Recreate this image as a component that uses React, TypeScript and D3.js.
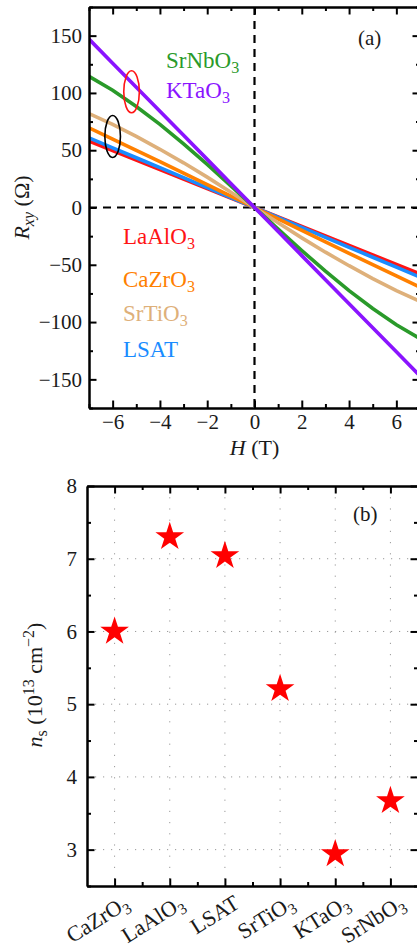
import { useEffect, useRef } from "react"
import * as d3 from "d3"

// ---- panel (a): Hall resistance vs field ----
const fieldT = [-7, -6, -5, -4, -3, -2, -1, 0, 1, 2, 3, 4, 5, 6, 7]
const rLaAlO3 = [58, 49.7, 41.4, 33.1, 24.9, 16.6, 8.3, 0, -8.3, -16.6, -24.9, -33.1, -41.4, -49.7, -58]
const rLSAT = [60.8, 52.1, 43.4, 34.8, 26.1, 17.4, 8.7, 0, -8.7, -17.4, -26.1, -34.8, -43.4, -52.1, -60.8]
const rCaZrO3 = [69.5, 59.7, 49.8, 40, 30, 20, 10, 0, -10, -20, -30, -40, -49.8, -59.7, -69.5]
const rSrTiO3 = [82, 72.5, 62, 50.8, 39, 26.5, 13.4, 0, -13.4, -26.5, -39, -50.8, -62, -72.5, -82]
const rSrNbO3 = [114.5, 102.3, 88.2, 72.5, 55.5, 37.6, 18.9, 0, -18.9, -37.6, -55.5, -72.5, -88.2, -102.3, -114.5]
const rKTaO3 = [147, 126, 105, 84, 63, 42, 21, 0, -21, -42, -63, -84, -105, -126, -147]

const seriesNames = ["LaAlO3", "LSAT", "CaZrO3", "SrTiO3", "SrNbO3", "KTaO3"]
const seriesValues = [rLaAlO3, rLSAT, rCaZrO3, rSrTiO3, rSrNbO3, rKTaO3]
const seriesColors = ["#ff1414", "#1a8cff", "#ff8000", "#deb07a", "#2a9a2a", "#8a14ff"]

const xTicksA = [-6, -4, -2, 0, 2, 4, 6]
const yTicksA = [-150, -100, -50, 0, 50, 100, 150]

// circled regions (field, resistance)
const ovalH = [-5.2, -6]
const ovalR = [101, 62]
const ovalColors = ["#ff1414", "#000"]

// ---- panel (b): carrier density per substrate ----
const substrates = ["CaZrO3", "LaAlO3", "LSAT", "SrTiO3", "KTaO3", "SrNbO3"]
const density = [6.0, 7.3, 7.04, 5.21, 2.94, 3.67]
const yTicksB = [3, 4, 5, 6, 7, 8]

const FONT = '"Liberation Serif", "DejaVu Serif", serif'
const INK = "#1a1a1a"

const minus = (v: number) => (v < 0 ? "\u2212" + Math.abs(v) : String(v))

// writes "SrNbO3" as SrNbO with a subscript 3
const chem = (text: any, name: string, size: number) => {
  const m = name.match(/^(.*?)(\d+)$/)
  if (!m) {
    text.append("tspan").text(name)
    return
  }
  text.append("tspan").text(m[1])
  text.append("tspan").attr("font-size", size * 0.7).attr("dy", size * 0.22).text(m[2])
}

const styleAxis = (g: any, labelSize = 21) => {
  g.attr("font-family", FONT).attr("font-size", labelSize)
  g.select(".domain").attr("stroke", "#000").attr("stroke-width", 2)
  g.selectAll(".tick line").attr("stroke", "#000").attr("stroke-width", 2)
  g.selectAll(".tick text").attr("fill", INK)
}

const App = () => {
  const svgRef = useRef<SVGSVGElement>(null)

  useEffect(() => {
    const svg = d3.select(svgRef.current)
    svg.selectAll("*").remove()

    // ================= panel (a) =================
    const x = d3.scaleLinear().domain([-7, 7]).range([89, 420])
    const y = d3.scaleLinear().domain([-175, 175]).range([408, 7])
    const [x0, x1] = x.range()
    const [yb0, yt0] = y.range()

    svg.append("clipPath").attr("id", "clipA")
      .append("rect").attr("x", x0).attr("y", yt0).attr("width", x1 - x0).attr("height", yb0 - yt0)

    // zero lines
    svg.append("line")
      .attr("x1", x(0)).attr("x2", x(0)).attr("y1", yt0).attr("y2", yb0)
      .attr("stroke", "#000").attr("stroke-width", 2.2).attr("stroke-dasharray", "8,6")
    svg.append("line")
      .attr("x1", x0).attr("x2", x1).attr("y1", y(0)).attr("y2", y(0))
      .attr("stroke", "#000").attr("stroke-width", 2.2).attr("stroke-dasharray", "8,6")

    const line = d3.line<number>()
      .x((_, i) => x(fieldT[i]))
      .y(d => y(d))

    const linesG = svg.append("g").attr("clip-path", "url(#clipA)")
    seriesValues.forEach((vals, i) => {
      linesG.append("path")
        .datum(vals)
        .attr("fill", "none")
        .attr("stroke", seriesColors[i])
        .attr("stroke-width", 3.6)
        .attr("d", line)
    })

    // ovals
    ovalH.forEach((h, i) => {
      svg.append("ellipse")
        .attr("cx", x(h)).attr("cy", y(ovalR[i]))
        .attr("rx", 7.8).attr("ry", 21)
        .attr("fill", "none").attr("stroke", ovalColors[i]).attr("stroke-width", 1.6)
    })

    // axes
    const gb = svg.append("g").attr("transform", `translate(0,${yb0})`)
      .call(d3.axisBottom(x).tickValues(xTicksA).tickSize(-7.5).tickSizeOuter(0).tickPadding(6).tickFormat(d => minus(+d)))
    styleAxis(gb)
    const gbm = svg.append("g").attr("transform", `translate(0,${yb0})`)
      .call(d3.axisBottom(x).tickValues(d3.range(-7, 8, 2)).tickSize(-4).tickSizeOuter(0).tickFormat(() => ""))
    styleAxis(gbm)
    const gt = svg.append("g").attr("transform", `translate(0,${yt0})`)
      .call(d3.axisTop(x).tickValues(xTicksA).tickSize(-7.5).tickSizeOuter(0).tickFormat(() => ""))
    styleAxis(gt)
    const gtm = svg.append("g").attr("transform", `translate(0,${yt0})`)
      .call(d3.axisTop(x).tickValues(d3.range(-7, 8, 2)).tickSize(-4).tickSizeOuter(0).tickFormat(() => ""))
    styleAxis(gtm)
    const gl = svg.append("g").attr("transform", `translate(${x0},0)`)
      .call(d3.axisLeft(y).tickValues(yTicksA).tickSize(-7.5).tickSizeOuter(0).tickPadding(7).tickFormat(d => minus(+d)))
    styleAxis(gl)
    const glm = svg.append("g").attr("transform", `translate(${x0},0)`)
      .call(d3.axisLeft(y).tickValues(d3.range(-175, 176, 50)).tickSize(-4).tickSizeOuter(0).tickFormat(() => ""))
    styleAxis(glm)
    const gr = svg.append("g").attr("transform", `translate(${x1},0)`)
      .call(d3.axisRight(y).tickValues(yTicksA).tickSize(-7.5).tickSizeOuter(0).tickFormat(() => ""))
    styleAxis(gr)
    const grm = svg.append("g").attr("transform", `translate(${x1},0)`)
      .call(d3.axisRight(y).tickValues(d3.range(-175, 176, 50)).tickSize(-4).tickSizeOuter(0).tickFormat(() => ""))
    styleAxis(grm)

    // legend labels
    const legendPos: Record<string, [number, number]> = {
      SrNbO3: [166, 68], KTaO3: [166, 98],
      LaAlO3: [123, 244], CaZrO3: [123, 287], SrTiO3: [123, 321], LSAT: [123, 357],
    }
    seriesNames.forEach((name, i) => {
      const [lx, ly] = legendPos[name]
      const t = svg.append("text").attr("x", lx).attr("y", ly)
        .attr("font-family", FONT).attr("font-size", 23).attr("fill", seriesColors[i])
      chem(t, name, 23)
    })

    svg.append("text").attr("x", 358).attr("y", 45)
      .attr("font-family", FONT).attr("font-size", 21).attr("fill", INK).text("(a)")

    // axis titles
    const xt = svg.append("text").attr("x", x(0)).attr("y", 455).attr("text-anchor", "middle")
      .attr("font-family", FONT).attr("font-size", 22).attr("fill", INK)
    xt.append("tspan").attr("font-style", "italic").text("H")
    xt.append("tspan").text(" (T)")

    const yt = svg.append("text").attr("transform", `translate(29,${y(0)}) rotate(-90)`).attr("text-anchor", "middle")
      .attr("font-family", FONT).attr("font-size", 22).attr("fill", INK).style("white-space", "pre")
    yt.append("tspan").attr("font-style", "italic").text("R")
    yt.append("tspan").attr("font-style", "italic").attr("font-size", 16).attr("dy", 5).text("xy")
    yt.append("tspan").attr("dy", -5).text(" (\u03A9)")

    // ================= panel (b) =================
    const xb = d3.scaleLinear().domain([-0.5, substrates.length - 0.5]).range([87, 418])
    const yb = d3.scaleLinear().domain([2.5, 8]).range([886, 486])
    const [bx0, bx1] = xb.range()
    const [by0, by1] = yb.range()
    const idx = substrates.map((_, i) => i)

    // dotted grid
    svg.append("g").selectAll("line").data(idx).join("line")
      .attr("x1", d => xb(d)).attr("x2", d => xb(d)).attr("y1", by1).attr("y2", by0)
      .attr("stroke", "#999").attr("stroke-width", 1).attr("stroke-dasharray", "1.2,10")
    svg.append("g").selectAll("line").data(yTicksB.filter(v => v < 8)).join("line")
      .attr("x1", bx0).attr("x2", bx1).attr("y1", d => yb(d)).attr("y2", d => yb(d))
      .attr("stroke", "#999").attr("stroke-width", 1).attr("stroke-dasharray", "1.2,6.8")

    const minorX = d3.range(0.5, substrates.length - 1, 1)
    const minorY = d3.range(2.5, 8, 1)

    const bb = svg.append("g").attr("transform", `translate(0,${by0})`)
      .call(d3.axisBottom(xb).tickValues(idx).tickSize(-7.5).tickSizeOuter(0).tickFormat(() => ""))
    styleAxis(bb)
    const bbm = svg.append("g").attr("transform", `translate(0,${by0})`)
      .call(d3.axisBottom(xb).tickValues(minorX).tickSize(-4).tickSizeOuter(0).tickFormat(() => ""))
    styleAxis(bbm)
    const bt = svg.append("g").attr("transform", `translate(0,${by1})`)
      .call(d3.axisTop(xb).tickValues(idx).tickSize(-7.5).tickSizeOuter(0).tickFormat(() => ""))
    styleAxis(bt)
    const btm = svg.append("g").attr("transform", `translate(0,${by1})`)
      .call(d3.axisTop(xb).tickValues(minorX).tickSize(-4).tickSizeOuter(0).tickFormat(() => ""))
    styleAxis(btm)
    const bl = svg.append("g").attr("transform", `translate(${bx0},0)`)
      .call(d3.axisLeft(yb).tickValues(yTicksB).tickSize(-7.5).tickSizeOuter(0).tickPadding(10).tickFormat(d => String(d)))
    styleAxis(bl)
    const blm = svg.append("g").attr("transform", `translate(${bx0},0)`)
      .call(d3.axisLeft(yb).tickValues(minorY).tickSize(-4).tickSizeOuter(0).tickFormat(() => ""))
    styleAxis(blm)
    const br = svg.append("g").attr("transform", `translate(${bx1},0)`)
      .call(d3.axisRight(yb).tickValues(yTicksB).tickSize(-7.5).tickSizeOuter(0).tickFormat(() => ""))
    styleAxis(br)
    const brm = svg.append("g").attr("transform", `translate(${bx1},0)`)
      .call(d3.axisRight(yb).tickValues(minorY).tickSize(-4).tickSizeOuter(0).tickFormat(() => ""))
    styleAxis(brm)

    // rotated category labels
    substrates.forEach((name, i) => {
      const t = svg.append("text")
        .attr("transform", `translate(${xb(i) + 16},${by0 + 21}) rotate(-32)`)
        .attr("text-anchor", "end")
        .attr("font-family", FONT).attr("font-size", 22).attr("fill", INK)
      chem(t, name, 22)
    })

    // stars
    const star = d3.symbol(d3.symbolStar, 255)
    svg.append("g").selectAll("path").data(density).join("path")
      .attr("transform", (d, i) => `translate(${xb(i)},${yb(d)})`)
      .attr("d", star())
      .attr("fill", "#ff0000")

    svg.append("text").attr("x", 353).attr("y", 521)
      .attr("font-family", FONT).attr("font-size", 21).attr("fill", INK).text("(b)")

    const ytb = svg.append("text").attr("transform", `translate(42,685) rotate(-90)`).attr("text-anchor", "middle")
      .attr("font-family", FONT).attr("font-size", 22).attr("fill", INK).style("white-space", "pre")
    ytb.append("tspan").attr("font-style", "italic").text("n")
    ytb.append("tspan").attr("font-size", 16).attr("dy", 5).text("s")
    ytb.append("tspan").attr("dy", -5).text(" (10")
    ytb.append("tspan").attr("font-size", 16).attr("dy", -8).text("13")
    ytb.append("tspan").attr("dy", 8).text(" cm")
    ytb.append("tspan").attr("font-size", 16).attr("dy", -8).text("\u22122")
    ytb.append("tspan").attr("dy", 8).text(")")
  }, [])

  return (
    <svg
      ref={svgRef}
      width={417}
      height={945}
      style={{ position: "absolute", left: 0, top: 0, background: "#fff" }}
    />
  )
}

export default App
